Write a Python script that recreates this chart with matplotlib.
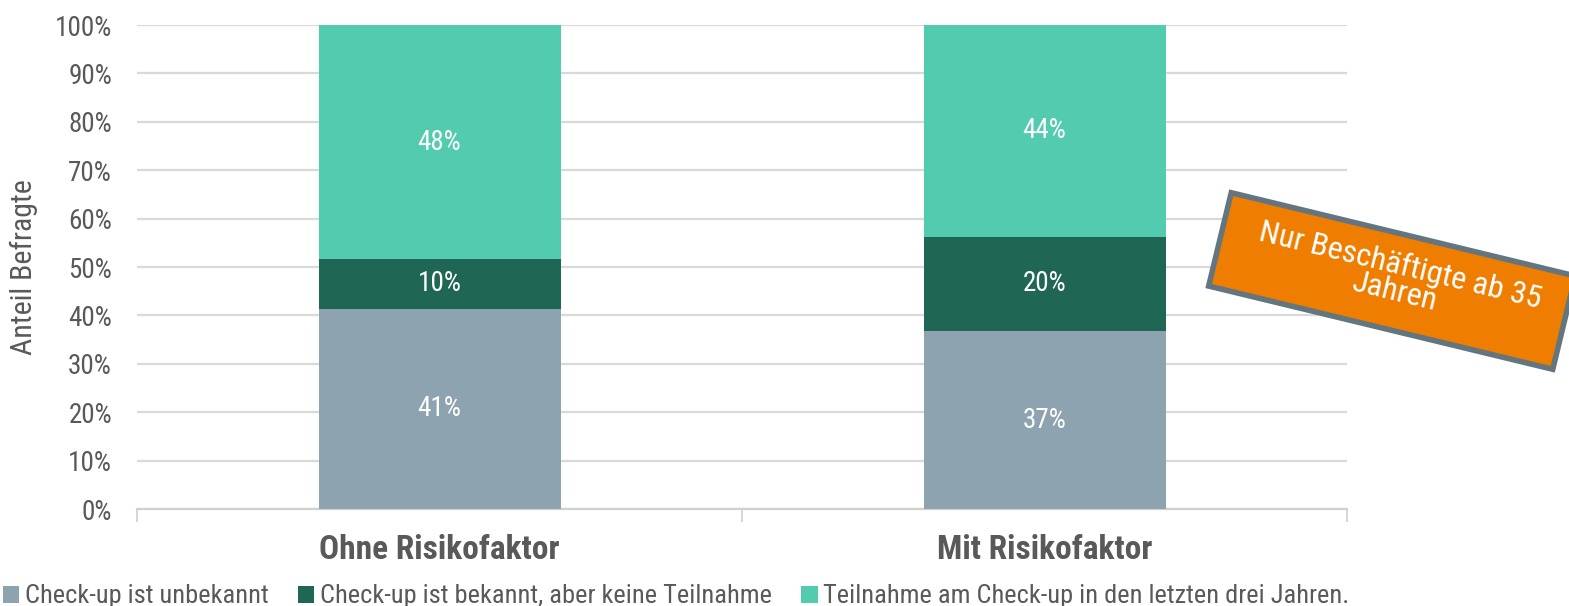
import numpy as np
import matplotlib.pyplot as plt
import matplotlib.patches as mpatches
import matplotlib.transforms as mtransforms

# data
categories = ["Ohne Risikofaktor", "Mit Risikofaktor"]
series_names = ["Check-up ist unbekannt",
                "Check-up ist bekannt, aber keine Teilnahme",
                "Teilnahme am Check-up in den letzten drei Jahren."]
unbekannt = [41.4, 36.7]
bekannt_keine = [10.2, 19.6]
teilnahme = [48.4, 43.7]
yticks = [0, 10, 20, 30, 40, 50, 60, 70, 80, 90, 100]

colors = ["#8DA3AF", "#1F6654", "#52CBAE"]
grey_text = "#595959"

plt.rcParams['font.family'] = ['Roboto Condensed', 'DejaVu Sans']

W, H = 1569, 606
fig = plt.figure(figsize=(W / 100, H / 100), dpi=100)
ax = fig.add_axes([137 / W, 1 - 509 / H, (1347 - 137) / W, (509 - 25) / H])

x = np.arange(len(categories))
bottom = np.zeros(len(categories))
for vals, col, name in zip([unbekannt, bekannt_keine, teilnahme], colors, series_names):
    bars = ax.bar(x, vals, width=0.4, bottom=bottom, color=col, label=name, zorder=3)
    for b, v, b0 in zip(bars, vals, bottom):
        ax.text(b.get_x() + b.get_width() / 2, b0 + v / 2, f"{v:.0f}%",
                ha='center', va='center', color='white', fontsize=19.5, zorder=4)
    bottom += np.array(vals)

ax.set_xlim(-0.5, 1.5)
ax.set_ylim(0, 100)
ax.set_yticks(yticks)
ax.set_yticklabels([f"{t}%" for t in yticks], fontsize=19.5, color=grey_text)
ax.yaxis.grid(True, color="#D9D9D9", linewidth=1.6, zorder=0)
ax.tick_params(axis='y', length=0, pad=18)

ax.set_xticks(x)
ax.set_xticklabels(categories, fontsize=24, fontweight='bold', color=grey_text)
ax.set_xticks([-0.5, 0.5, 1.5], minor=True)
ax.tick_params(axis='x', which='major', length=0, pad=18)
ax.tick_params(axis='x', which='minor', length=9, width=1.2, color="#D0D0D0")

for s in ['top', 'right', 'left']:
    ax.spines[s].set_visible(False)
ax.spines['bottom'].set_color("#D0D0D0")
ax.spines['bottom'].set_linewidth(1.6)

ax.set_ylabel("Anteil Befragte", fontsize=21.5, color=grey_text)
ax.yaxis.set_label_coords(-0.082, 0.5)

handles, labels = ax.get_legend_handles_labels()
fig.legend(handles, labels, loc='lower left', bbox_to_anchor=(3 / W, -0.004), ncol=3,
           frameon=False, fontsize=19, handlelength=0.62, handleheight=0.62,
           handletextpad=0.22, columnspacing=1.1, labelcolor=grey_text,
           borderaxespad=0, borderpad=0)

# rotated note box
cx, cy = 1392, H - 281
bw, bh = 354, 96
ang = -13.6
tr = mtransforms.Affine2D().rotate_deg_around(cx, cy, ang).scale(1 / W, 1 / H) + fig.transFigure
box = mpatches.Rectangle((cx - bw / 2, cy - bh / 2), bw, bh, facecolor="#EE7D00",
                         edgecolor="#637680", linewidth=4, transform=tr, zorder=10,
                         clip_on=False)
fig.patches.append(box)
fig.text((cx + 5) / W, (cy + 3) / H, "Nur Beschäftigte ab 35\nJahren", rotation=ang,
         rotation_mode='anchor', ha='center', va='center', color='white',
         fontsize=23, linespacing=0.9, zorder=11)

fig.savefig("out.png", dpi=100)
